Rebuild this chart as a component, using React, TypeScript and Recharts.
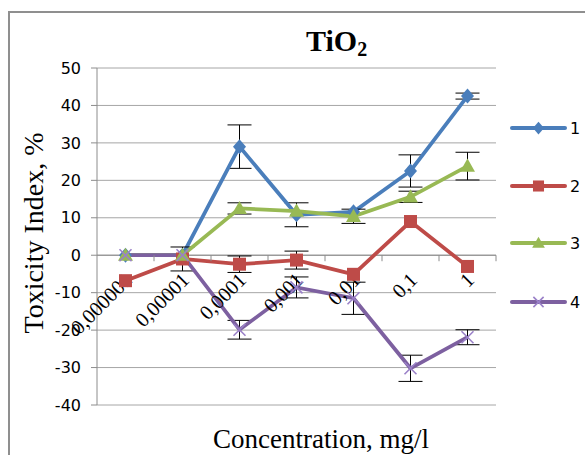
import React from "react";
import {
  LineChart,
  Line,
  XAxis,
  YAxis,
  CartesianGrid,
  ErrorBar,
  ReferenceLine,
  ReferenceDot,
} from "recharts";

const categories = ["0,000001", "0,00001", "0,0001", "0,001", "0,01", "0,1", "1"];
const series1 = [0, 0, 29, 10.8, 11.6, 22.5, 42.5];
const series2 = [-6.8, -1, -2.4, -1.3, -5.1, 9, -3];
const series3 = [0, 0, 12.5, 11.8, 10.4, 15.6, 23.8];
const series4 = [0, 0, -19.9, -8.6, -11.5, -30.2, -21.9];
const err1 = [null, null, 5.8, 3.2, null, 4.3, 0.8];
const err2 = [null, 3.2, 2.2, 2.4, null, null, null];
const err3 = [null, null, 1.5, null, 1.9, 1.5, 3.7];
const err4 = [null, null, 2.5, 2.8, 4.3, 3.5, 2];
const yTicks = [-40, -30, -20, -10, 0, 10, 20, 30, 40, 50];

const seriesNames = ["1", "2", "3", "4"];
const seriesColors = ["#4A7EBB", "#BE4B48", "#98B954", "#7D60A0"];
const markerKinds = ["diamond", "square", "triangle", "cross"];

const data = categories.map((cat, i) => ({
  cat,
  s1: series1[i],
  s2: series2[i],
  s3: series3[i],
  s4: series4[i],
  e1: err1[i],
  e2: err2[i],
  e3: err3[i],
  e4: err4[i],
}));

const W = 585;
const H = 455;
const margin = { top: 68, right: 89, bottom: 50, left: 57 };
const yAxisWidth = 40;
const plotWidth = W - margin.left - margin.right - yAxisWidth;
const band = plotWidth / categories.length;

const serif = "'Liberation Serif', 'Times New Roman', serif";
const sans = "'DejaVu Sans', sans-serif";
const gridColor = "#a6a6a6";
const axisColor = "#8c8c8c";

function Marker({ kind, cx, cy, color, s = 1 }: any) {
  if (cx == null || cy == null) return null;
  if (kind === "diamond") {
    const w = 6.5 * s;
    const h = 7.5 * s;
    return <polygon points={`${cx},${cy - h} ${cx + w},${cy} ${cx},${cy + h} ${cx - w},${cy}`} fill={color} />;
  }
  if (kind === "square") {
    const h = 6.5 * s;
    return <rect x={cx - h} y={cy - h} width={2 * h} height={2 * h} fill={color} />;
  }
  if (kind === "triangle") {
    const h = 7.5 * s;
    return <polygon points={`${cx},${cy - h} ${cx + h},${cy + h * 0.75} ${cx - h},${cy + h * 0.75}`} fill={color} />;
  }
  const h = 6 * s;
  return (
    <g stroke="#9a80c8" strokeWidth={1.6}>
      <line x1={cx - h} y1={cy - h} x2={cx + h} y2={cy + h} />
      <line x1={cx - h} y1={cy + h} x2={cx + h} y2={cy - h} />
    </g>
  );
}

function CategoryTick({ cx, cy, label }: any) {
  if (cx == null || cy == null) return null;
  const tx = cx + band / 2;
  const ax = cx + 8;
  const ay = cy + 26;
  return (
    <g>
      <line x1={tx} y1={cy} x2={tx} y2={cy + 6} stroke={axisColor} strokeWidth={1} />
      <text
        x={ax}
        y={ay}
        transform={`rotate(-45 ${ax} ${ay})`}
        textAnchor="end"
        fontFamily={serif}
        fontSize={20.5}
        fill="#000"
      >
        {label}
      </text>
    </g>
  );
}

const legendY = [128, 186, 243, 302];

export default function App() {
  return (
    <div style={{ position: "absolute", left: 0, top: 0, width: W, height: H, overflow: "hidden", background: "#fff" }}>
      <div
        style={{
          position: "absolute",
          left: 8,
          top: 11,
          width: W,
          height: H,
          borderLeft: "2px solid #8f8f8f",
          borderTop: "2px solid #8f8f8f",
        }}
      />
      <div style={{ position: "absolute", left: 0, top: 0 }}>
        <LineChart width={W} height={H} data={data} margin={margin}>
          <CartesianGrid horizontal vertical={false} stroke={gridColor} strokeWidth={1} />
          <XAxis dataKey="cat" scale="band" hide />
          <YAxis
            width={yAxisWidth}
            domain={[-40, 50]}
            ticks={yTicks}
            interval={0}
            axisLine={{ stroke: axisColor }}
            tickLine={{ stroke: axisColor }}
            tickSize={6}
            tickMargin={10}
            tick={{ fill: "#000", fontSize: 16, fontFamily: sans }}
          />
          <ReferenceLine y={0} stroke={axisColor} strokeWidth={1} />
          {["s1", "s2", "s3", "s4"].map((key, si) => (
            <Line
              key={key}
              dataKey={key}
              stroke={seriesColors[si]}
              strokeWidth={3.75}
              isAnimationActive={false}
              activeDot={false}
              dot={(p: any) => (
                <Marker key={`${key}-${p.index}`} kind={markerKinds[si]} cx={p.cx} cy={p.cy} color={seriesColors[si]} />
              )}
            >
              <ErrorBar dataKey={`e${si + 1}`} width={12} stroke="#000" strokeWidth={1} direction="y" />
            </Line>
          ))}
          {categories.map((cat) => (
            <ReferenceDot
              key={cat}
              x={cat}
              y={0}
              r={0}
              shape={(p: any) => <CategoryTick {...p} label={cat} />}
            />
          ))}
        </LineChart>
      </div>
      <svg width={W} height={H} style={{ position: "absolute", left: 0, top: 0, pointerEvents: "none" }}>
        <text x={306} y={51} fontFamily={serif} fontWeight="bold" fontSize={30} fill="#000">
          TiO
          <tspan fontSize={20} dy={5}>2</tspan>
        </text>
        <text
          x={43}
          y={233}
          transform="rotate(-90 43 233)"
          textAnchor="middle"
          fontFamily={serif}
          fontSize={28}
          fill="#000"
        >
          Toxicity Index, %
        </text>
        <text x={321} y={448} textAnchor="middle" fontFamily={serif} fontSize={27} fill="#000">
          Concentration, mg/l
        </text>
        {seriesNames.map((name, i) => (
          <g key={name}>
            <line
              x1={512}
              y1={legendY[i]}
              x2={565}
              y2={legendY[i]}
              stroke={seriesColors[i]}
              strokeWidth={4}
              strokeLinecap="round"
            />
            <Marker kind={markerKinds[i]} cx={538.5} cy={legendY[i]} color={seriesColors[i]} s={0.85} />
            <text x={570} y={legendY[i] + 6} fontFamily={sans} fontSize={16} fill="#000">
              {name}
            </text>
          </g>
        ))}
      </svg>
    </div>
  );
}
